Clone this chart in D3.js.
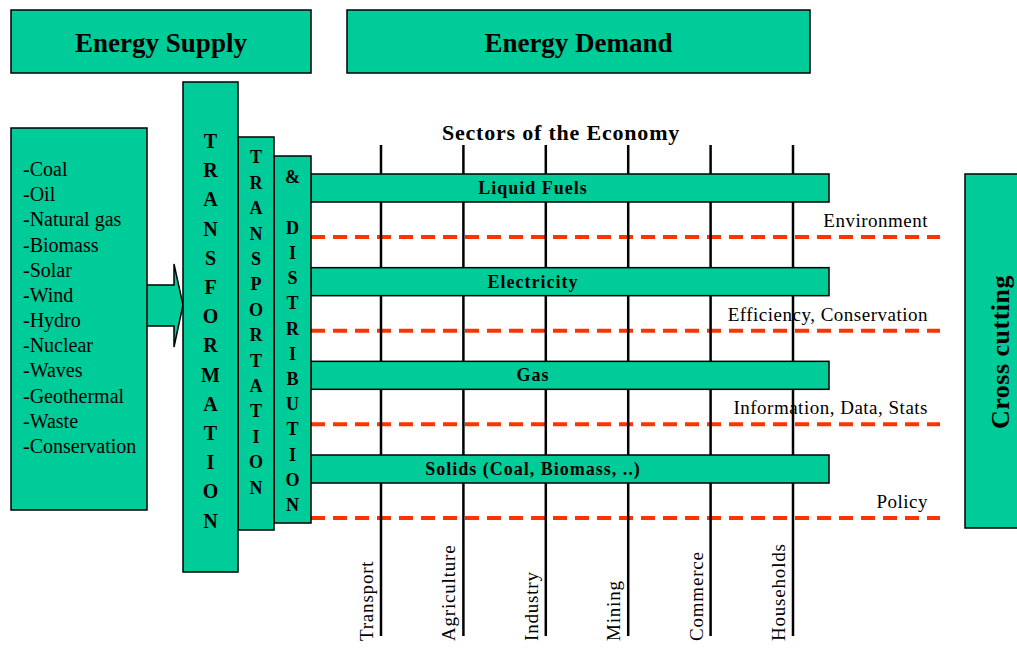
<!DOCTYPE html>
<html lang="en">
<head>
<meta charset="UTF-8">
<title>Energy Supply and Demand</title>
<script src="https://d3js.org/d3.v7.min.js"></script>
<style>
  body { margin: 0; background: #fff; }
  text { font-family: "Liberation Serif", "Times New Roman", serif; fill: #000; }
</style>
</head>
<body>
<script>
// diagram content
var headers = ['Energy Supply', 'Energy Demand'];
var sources = ['-Coal', '-Oil', '-Natural gas', '-Biomass', '-Solar', '-Wind', '-Hydro',
               '-Nuclear', '-Waves', '-Geothermal', '-Waste', '-Conservation'];
var columns = ['TRANSFORMATION', 'TRANSPORTATION', '& DISTRIBUTION'];
var sectors = ['Transport', 'Agriculture', 'Industry', 'Mining', 'Commerce', 'Households'];
var carriers = ['Liquid Fuels', 'Electricity', 'Gas', 'Solids (Coal, Biomass, ..)'];
var themes = ['Environment', 'Efficiency, Conservation', 'Information, Data, Stats', 'Policy'];
var sideLabel = 'Cross cutting';
var sectorTitle = 'Sectors of the Economy';

var width = 1017, height = 650;
var green = '#00cc99', red = '#ff3300';

var svg = d3.select('body').append('svg')
  .attr('width', width).attr('height', height);

function box(g, x0, y0, x1, y1) {
  return g.append('rect')
    .attr('x', x0).attr('y', y0)
    .attr('width', x1 - x0).attr('height', y1 - y0)
    .attr('fill', green).attr('stroke', '#000').attr('stroke-width', 1.5);
}

// header boxes
var headerX = d3.scaleOrdinal().domain(headers).range([[11, 311], [347, 810]]);
headers.forEach(function (h) {
  var r = headerX(h);
  box(svg, r[0], 10, r[1], 73);
  svg.append('text')
    .attr('x', (r[0] + r[1]) / 2).attr('y', 52)
    .attr('text-anchor', 'middle')
    .attr('font-size', 27).attr('font-weight', 'bold')
    .text(h);
});

// arrow into transformation
svg.append('path')
  .attr('d', 'M147,285 L174,285 L174,264 L183,305 L174,347 L174,326 L147,326')
  .attr('fill', green).attr('stroke', '#000').attr('stroke-width', 1.5);

// sources box
box(svg, 11, 128, 147, 510);
var srcY = d3.scalePoint().domain(sources).range([170, 447]);
svg.selectAll('.src').data(sources).enter().append('text')
  .attr('class', 'src')
  .attr('x', 23)
  .attr('y', function (d) { return srcY(d) + 6; })
  .attr('font-size', 20)
  .text(function (d) { return d; });

// dashed cross-cutting lines (drawn under sector lines)
var themeY = d3.scalePoint().domain(themes).range([237, 518]);
svg.selectAll('.theme').data(themes).enter().append('line')
  .attr('class', 'theme')
  .attr('x1', 311).attr('x2', 940)
  .attr('y1', function (d) { return themeY(d); })
  .attr('y2', function (d) { return themeY(d); })
  .attr('stroke', red).attr('stroke-width', 4)
  .attr('stroke-dasharray', '14,8');

svg.selectAll('.themeLabel').data(themes).enter().append('text')
  .attr('class', 'themeLabel')
  .attr('x', 928)
  .attr('y', function (d) { return themeY(d) - 10; })
  .attr('text-anchor', 'end')
  .attr('font-size', 19).attr('letter-spacing', 0.5)
  .text(function (d) { return d; });

// sector lines
var secX = d3.scalePoint().domain(sectors).range([381, 793]);
svg.selectAll('.sector').data(sectors).enter().append('line')
  .attr('class', 'sector')
  .attr('x1', function (d) { return secX(d); })
  .attr('x2', function (d) { return secX(d); })
  .attr('y1', 145).attr('y2', 636)
  .attr('stroke', '#000').attr('stroke-width', 2.5);

svg.selectAll('.sectorLabel').data(sectors).enter().append('text')
  .attr('class', 'sectorLabel')
  .attr('transform', function (d) { return 'translate(' + (secX(d) - 8) + ',641) rotate(-90)'; })
  .attr('font-size', 19).attr('letter-spacing', 0.8)
  .text(function (d) { return d; });

svg.append('text')
  .attr('x', 561).attr('y', 140)
  .attr('text-anchor', 'middle')
  .attr('font-size', 22).attr('font-weight', 'bold').attr('letter-spacing', 0.8)
  .text(sectorTitle);

// energy carrier bars
var carY = d3.scalePoint().domain(carriers).range([188, 469]);
carriers.forEach(function (c) {
  box(svg, 311, carY(c) - 14, 829, carY(c) + 14);
  svg.append('text')
    .attr('x', 533).attr('y', carY(c) + 6)
    .attr('text-anchor', 'middle')
    .attr('font-size', 18).attr('font-weight', 'bold').attr('letter-spacing', 1)
    .text(c);
});

// transformation / transport / distribution columns
var colBox = d3.scaleOrdinal().domain(columns)
  .range([[183, 238, 82, 572, 141, 29.2, 20], [238, 274, 137, 530, 157, 25.4, 18], [274, 311, 156, 523, 177, 25.2, 18]]);
columns.slice().reverse().forEach(function (c) {
  var b = colBox(c);
  box(svg, b[0], b[2], b[1], b[3]);
  var letters = c.split('');
  var ly = d3.scaleLinear().domain([0, 1]).range([b[4], b[4] + b[5]]);
  svg.selectAll(null).data(letters).enter().append('text')
    .attr('x', (b[0] + b[1]) / 2)
    .attr('y', function (d, i) { return ly(i) + b[6] * 0.35; })
    .attr('text-anchor', 'middle')
    .attr('font-size', b[6]).attr('font-weight', 'bold')
    .text(function (d) { return d; });
});

// cross cutting box
box(svg, 965, 174, 1030, 528);
svg.append('text')
  .attr('transform', 'translate(1009,352) rotate(-90)')
  .attr('text-anchor', 'middle')
  .attr('font-size', 26).attr('font-weight', 'bold').attr('letter-spacing', 0.5)
  .text(sideLabel);
</script>
</body>
</html>
